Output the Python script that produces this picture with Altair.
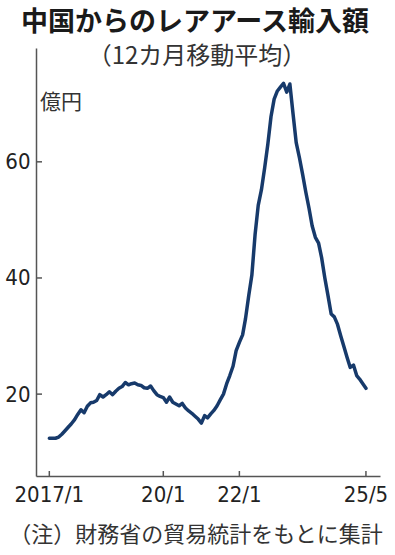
import altair as alt
import pandas as pd

TITLE = "中国からのレアアース輸入額"
SUBTITLE = "（12カ月移動平均）"
UNIT = "億円"
NOTE = "（注）財務省の貿易統計をもとに集計"

FIRST_MONTH = "2017-01-01"
values = [
    12.4, 12.4, 12.4, 12.6, 13.1, 13.7, 14.3, 14.9, 15.6, 16.5, 17.3, 16.8,
    17.9, 18.5, 18.6, 18.9, 19.9, 19.5, 19.9, 20.4, 19.9, 20.5, 21.0, 21.3,
    22.0, 21.6, 21.8, 21.9, 21.6, 21.5, 21.1, 21.0, 21.4, 20.6, 19.9, 19.6,
    19.4, 18.6, 19.5, 18.6, 18.3, 18.0, 18.4, 17.6, 17.1, 16.7, 16.2, 15.7,
    15.0, 16.3, 15.9, 16.6, 17.2, 18.0, 19.0, 20.0, 21.8, 23.2, 24.8, 27.5,
    28.9, 30.2, 33.0, 37.0, 40.5, 47.5, 52.5, 55.2, 59.0, 63.0, 67.8, 70.8,
    72.2, 72.9, 73.5, 72.0, 73.4, 68.2, 63.3, 60.7, 57.8, 54.8, 52.0, 49.0,
    47.0, 46.0, 43.5, 40.0, 37.0, 33.8, 33.3, 32.0, 30.0, 28.2, 26.3, 24.6,
    25.0, 23.2, 22.6, 21.8, 21.0,
]

x_tick_dates = ["2017-01-01", "2020-01-01", "2022-01-01", "2025-05-01"]
x_tick_labels = ["2017/1", "20/1", "22/1", "25/5"]
y_ticks = [20, 40, 60]

W, H = 344, 428
LINE_COLOR = "#173a6b"
AXIS_COLOR = "#555555"
NUM_FONT = "Liberation Sans Narrow, DejaVu Sans Condensed, sans-serif"
JP_FONT = "Noto Sans CJK JP"

dates = pd.date_range(FIRST_MONTH, periods=len(values), freq="MS").strftime("%Y-%m-%d")
df = pd.DataFrame({"date": dates, "value": values})
xt = pd.DataFrame({"date": x_tick_dates, "label": x_tick_labels})
yt = pd.DataFrame({"v": y_ticks})

x_scale = alt.Scale(
    type="utc",
    domain=[alt.DateTime(year=2016, month=8, date=26, utc=True),
            alt.DateTime(year=2025, month=9, date=13, utc=True)],
)
y_scale = alt.Scale(domain=[5.9, 79.6], zero=False, nice=False)

x_axis = alt.Axis(labels=False, ticks=False, grid=False, title=None,
                  domainColor=AXIS_COLOR, domainWidth=1.5)
y_axis = alt.Axis(values=y_ticks, ticks=False, grid=False, title=None,
                  domainColor=AXIS_COLOR, domainWidth=1.5,
                  labelFont=NUM_FONT, labelFontSize=22, labelColor="#222222",
                  labelPadding=6)

line = alt.Chart(df).mark_line(
    color=LINE_COLOR, strokeWidth=3.5, strokeJoin="round", strokeCap="round"
).encode(
    x=alt.X("date:T", scale=x_scale, axis=x_axis),
    y=alt.Y("value:Q", scale=y_scale, axis=y_axis),
)

x_ticks = alt.Chart(xt).mark_rule(color=AXIS_COLOR, strokeWidth=1.5).encode(
    x=alt.X("date:T", scale=x_scale),
    y=alt.value(H),
    y2=alt.value(H - 5),
)

x_labels = alt.Chart(xt).mark_text(
    font=NUM_FONT, fontSize=22, color="#222222", baseline="alphabetic", align="center"
).encode(
    x=alt.X("date:T", scale=x_scale),
    y=alt.value(H + 26),
    text="label:N",
)

y_tick_marks = alt.Chart(yt).mark_rule(color=AXIS_COLOR, strokeWidth=1.5).encode(
    y=alt.Y("v:Q", scale=y_scale),
    x=alt.value(0),
    x2=alt.value(6),
)

def text_layer(txt, x, y, size, weight="normal", align="center", color="#333333"):
    return alt.Chart(pd.DataFrame({"t": [txt]})).mark_text(
        font=JP_FONT, fontSize=size, fontWeight=weight, align=align,
        baseline="middle", color=color
    ).encode(x=alt.value(x), y=alt.value(y), text="t:N")

title = text_layer(TITLE, 159, -25, 27, weight="bold", color="#1a1a1a")
subtitle = text_layer(SUBTITLE, 161, 9, 24)
unit = text_layer(UNIT, 4, 55, 21, align="left")
note = text_layer(NOTE, 160, 487, 22)

chart = alt.layer(
    line, x_ticks, x_labels, y_tick_marks, title, subtitle, unit, note
).properties(
    width=W, height=H,
    padding={"left": 36, "top": 48, "right": 15, "bottom": 79},
    autosize=alt.AutoSizeParams(type="none"),
    background="white",
).configure_view(stroke=None)

chart.save("out.html", embed_options={"renderer": "svg", "actions": False})
